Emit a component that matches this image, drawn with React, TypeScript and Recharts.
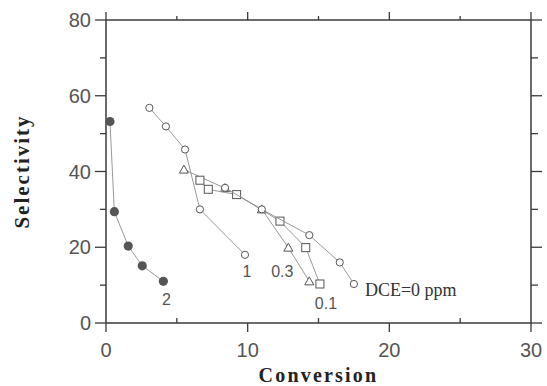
import React from 'react';
import { ScatterChart, Scatter, XAxis, YAxis, Label } from 'recharts';

// Series labels
const seriesNames = ['2', '1', '0.3', '0.1', 'DCE=0 ppm'];

// Conversion (x) and Selectivity (y) per series
const conv2 = [0.28, 0.59, 1.57, 2.56, 4.05];
const sel2 = [53.2, 29.4, 20.3, 15.1, 11.0];

const conv1 = [3.06, 4.23, 5.58, 6.63, 9.81];
const sel1 = [56.8, 51.9, 45.8, 30.0, 18.0];

const conv03 = [5.5, 8.4, 11.0, 12.87, 14.35];
const sel03 = [40.5, 35.6, 30.0, 19.9, 11.0];

const conv01 = [6.63, 7.22, 9.22, 12.28, 14.1, 15.1];
const sel01 = [37.7, 35.3, 33.9, 26.9, 19.9, 10.3];

const conv0 = [8.4, 11.0, 14.35, 16.5, 17.5];
const sel0 = [35.7, 30.0, 23.2, 16.0, 10.3];

const xTicks = [0, 5, 10, 15, 20, 25, 30];
const yTicks = [0, 10, 20, 30, 40, 50, 60, 70, 80];
const xMax = 30;
const yMax = 80;

const build = (xs: number[], ys: number[], name: string) =>
  xs.map((x, i) => ({ x, y: ys[i], label: i === xs.length - 1 ? name : undefined }));

const data2 = build(conv2, sel2, seriesNames[0]);
const data1 = build(conv1, sel1, seriesNames[1]);
const data03 = build(conv03, sel03, seriesNames[2]);
const data01 = build(conv01, sel01, seriesNames[3]);
const data0 = build(conv0, sel0, seriesNames[4]);

// Layout
const CHART_W = 547;
const CHART_H = 386;
const M_TOP = 20;
const M_RIGHT = 16;
const Y_AXIS_W = 106;
const X_AXIS_H = 63;
const PLOT_W = CHART_W - Y_AXIS_W - M_RIGHT;
const PLOT_H = CHART_H - M_TOP - X_AXIS_H;

const AXIS = '#3a3a3a';
const TICKTXT = '#555';
const SANS = '"Liberation Sans", Arial, sans-serif';
const SERIF = '"Liberation Serif", "Times New Roman", serif';
const MARK = '#555';
const LINE = { stroke: '#999', strokeWidth: 1 };

// Left ticks also draw the matching right-side ticks and the top border
const LeftTick = (props: any) => {
  const { x, y, payload } = props;
  const v = payload.value;
  const major = v % 20 === 0;
  const xr = x + PLOT_W;
  return (
    <g>
      <line x1={x - (major ? 11 : 6)} x2={x} y1={y} y2={y} stroke={AXIS} strokeWidth={1.3} />
      <line x1={xr} x2={xr + (major ? 11 : 7)} y1={y} y2={y} stroke={AXIS} strokeWidth={1.3} />
      {v === yMax && <line x1={x} x2={xr} y1={y} y2={y} stroke={AXIS} strokeWidth={1.5} />}
      {major && (
        <text x={x - 15} y={y} dy="0.36em" textAnchor="end" fontSize={20} fill={TICKTXT} fontFamily={SANS}>
          {v}
        </text>
      )}
    </g>
  );
};

// Bottom ticks also draw the matching top-side ticks and the right border
const BottomTick = (props: any) => {
  const { x, y, payload } = props;
  const v = payload.value;
  const major = v % 10 === 0;
  const yt = y - PLOT_H;
  return (
    <g>
      {major ? (
        <line x1={x} x2={x} y1={y} y2={y + 9} stroke={AXIS} strokeWidth={1.3} />
      ) : (
        <line x1={x} x2={x} y1={y - 5} y2={y} stroke={AXIS} strokeWidth={1.3} />
      )}
      <line x1={x} x2={x} y1={yt - (major ? 8 : 4)} y2={yt} stroke={AXIS} strokeWidth={1.3} />
      {v === xMax && <line x1={x} x2={x} y1={yt} y2={y} stroke={AXIS} strokeWidth={1.5} />}
      {major && (
        <text x={x} y={y + 27} dy="0.36em" textAnchor="middle" fontSize={20} fill={TICKTXT} fontFamily={SANS}>
          {v}
        </text>
      )}
    </g>
  );
};

const numLabel = (cx: number, cy: number, text: string, dx: number, dy: number) => (
  <text x={cx + dx} y={cy + dy} dy="0.36em" textAnchor="middle" fontSize={16} fill={TICKTXT} fontFamily={SANS}>
    {text}
  </text>
);

const filledCircle = (p: any) => (
  <g>
    <circle cx={p.cx} cy={p.cy} r={4.6} fill={MARK} stroke="none" />
    {p.payload && p.payload.label && numLabel(p.cx, p.cy, p.payload.label, 3, 18)}
  </g>
);

const openCircle = (dx: number, dy: number, serif?: boolean) => (p: any) => (
  <g>
    <circle cx={p.cx} cy={p.cy} r={3.6} fill="#fff" stroke={MARK} strokeWidth={1} />
    {p.payload && p.payload.label &&
      (serif ? (
        <text x={p.cx + dx} y={p.cy + dy} dy="0.36em" textAnchor="start" fontSize={18} fill="#333" fontFamily={SERIF}>
          {p.payload.label}
        </text>
      ) : (
        numLabel(p.cx, p.cy, p.payload.label, dx, dy)
      ))}
  </g>
);

const openTriangle = (p: any) => (
  <g>
    <polygon
      points={`${p.cx},${p.cy - 4.5} ${p.cx - 4.5},${p.cy + 3.5} ${p.cx + 4.5},${p.cy + 3.5}`}
      fill="#fff"
      stroke={MARK}
      strokeWidth={1}
    />
    {p.payload && p.payload.label && numLabel(p.cx, p.cy, p.payload.label, -27, -10)}
  </g>
);

const openSquare = (p: any) => (
  <g>
    <rect x={p.cx - 4} y={p.cy - 4} width={8} height={8} fill="#fff" stroke={MARK} strokeWidth={1} />
    {p.payload && p.payload.label && numLabel(p.cx, p.cy, p.payload.label, 6, 19)}
  </g>
);

const YTitle = (props: any) => {
  const vb = props.viewBox || { x: 0, y: M_TOP, width: Y_AXIS_W, height: PLOT_H };
  const cx = vb.x + 22;
  const cy = vb.y + vb.height / 2;
  return (
    <text
      x={cx}
      y={cy}
      transform={`rotate(-90, ${cx}, ${cy})`}
      textAnchor="middle"
      dominantBaseline="central"
      fontSize={21}
      fontWeight="bold"
      letterSpacing={2}
      fill="#222"
      fontFamily={SERIF}
    >
      Selectivity
    </text>
  );
};

const XTitle = (props: any) => {
  const vb = props.viewBox || { x: Y_AXIS_W, y: M_TOP + PLOT_H, width: PLOT_W, height: X_AXIS_H };
  const cx = vb.x + vb.width / 2;
  const cy = vb.y + 52;
  return (
    <text
      x={cx}
      y={cy}
      textAnchor="middle"
      dominantBaseline="central"
      fontSize={20}
      fontWeight="bold"
      letterSpacing={2.2}
      fill="#222"
      fontFamily={SERIF}
    >
      Conversion
    </text>
  );
};

export default function App() {
  return (
    <div style={{ position: 'absolute', left: 0, top: 0, background: '#fff' }}>
      <ScatterChart width={CHART_W} height={CHART_H} margin={{ top: M_TOP, right: M_RIGHT, bottom: 0, left: 0 }}>
        <XAxis
          dataKey="x"
          type="number"
          domain={[0, xMax]}
          ticks={xTicks}
          interval={0}
          height={X_AXIS_H}
          tickSize={0}
          tickMargin={0}
          tick={<BottomTick />}
          stroke={AXIS}
          strokeWidth={1.5}
          tickLine={false}
        >
          <Label content={<XTitle />} />
        </XAxis>
        <YAxis
          dataKey="y"
          type="number"
          domain={[0, yMax]}
          ticks={yTicks}
          interval={0}
          width={Y_AXIS_W}
          tickSize={0}
          tickMargin={0}
          tick={<LeftTick />}
          stroke={AXIS}
          strokeWidth={1.5}
          tickLine={false}
        >
          <Label content={<YTitle />} />
        </YAxis>
        <Scatter data={data2} line={LINE} lineType="joint" shape={filledCircle} isAnimationActive={false} />
        <Scatter data={data1} line={LINE} lineType="joint" shape={openCircle(2, 16)} isAnimationActive={false} />
        <Scatter data={data03} line={LINE} lineType="joint" shape={openTriangle} isAnimationActive={false} />
        <Scatter data={data01} line={LINE} lineType="joint" shape={openSquare} isAnimationActive={false} />
        <Scatter data={data0} line={LINE} lineType="joint" shape={openCircle(11, 6, true)} isAnimationActive={false} />
      </ScatterChart>
    </div>
  );
}
